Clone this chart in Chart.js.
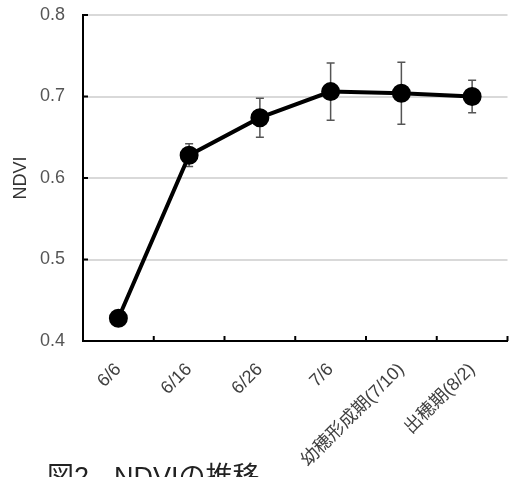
<!DOCTYPE html>
<html>
<head>
<meta charset="utf-8">
<script src="https://cdn.jsdelivr.net/npm/chart.js@4/dist/chart.umd.min.js"></script>
<style>
  html, body { margin: 0; padding: 0; background: #fff; }
  #wrap { position: relative; width: 519px; height: 477px; }
</style>
</head>
<body>
<div id="wrap"><canvas id="c" width="519" height="477"></canvas></div>
<script>
// Survey dates / growth stages
const categories = ['6/6', '6/16', '6/26', '7/6', '幼穂形成期(7/10)', '出穂期(8/2)'];
// Mean NDVI per date
const ndvi = [0.428, 0.628, 0.674, 0.706, 0.704, 0.700];
// Standard deviation per date
const sd = [0.004, 0.014, 0.024, 0.035, 0.038, 0.020];
// Y axis ticks
const yTicks = [0.4, 0.5, 0.6, 0.7, 0.8];
// Figure caption: number and title
const captionNumber = '図2';
const captionText = 'NDVIの推移';

const FONT = '"Liberation Sans", "Noto Sans CJK JP", sans-serif';

// Error bars (mean ± SD) drawn through the y scale
const errorBars = {
  id: 'errorBars',
  beforeDatasetsDraw(chart) {
    const ctx = chart.ctx;
    const xs = chart.scales.x, ys = chart.scales.y;
    ctx.save();
    ctx.strokeStyle = '#555';
    ctx.lineWidth = 1.5;
    ndvi.forEach((v, i) => {
      const x = xs.getPixelForValue(i);
      const yTop = ys.getPixelForValue(v + sd[i]);
      const yBot = ys.getPixelForValue(v - sd[i]);
      ctx.beginPath();
      ctx.moveTo(x, yTop); ctx.lineTo(x, yBot);
      ctx.moveTo(x - 4, yTop); ctx.lineTo(x + 4, yTop);
      ctx.moveTo(x - 4, yBot); ctx.lineTo(x + 4, yBot);
      ctx.stroke();
    });
    ctx.restore();
  }
};

// Inward tick marks on both axes, plus figure caption
const decorations = {
  id: 'decorations',
  afterDraw(chart) {
    const ctx = chart.ctx;
    const xs = chart.scales.x, ys = chart.scales.y;
    const area = chart.chartArea;
    ctx.save();
    ctx.strokeStyle = '#000';
    ctx.lineWidth = 2;
    const n = categories.length;
    for (let i = 1; i <= n; i++) {
      const x = xs.left + i * (xs.right - xs.left) / n;
      ctx.beginPath();
      ctx.moveTo(x, area.bottom);
      ctx.lineTo(x, area.bottom - 5);
      ctx.stroke();
    }
    yTicks.forEach(v => {
      const y = ys.getPixelForValue(v);
      ctx.beginPath();
      ctx.moveTo(area.left, y);
      ctx.lineTo(area.left + 5, y);
      ctx.stroke();
    });
    ctx.fillStyle = '#222';
    ctx.font = '27px ' + FONT;
    ctx.textBaseline = 'alphabetic';
    ctx.textAlign = 'left';
    ctx.fillText(captionNumber, 47, 486);
    ctx.fillText(captionText, 114, 486);
    ctx.restore();
  }
};

new Chart(document.getElementById('c'), {
  type: 'line',
  data: {
    labels: categories,
    datasets: [{
      data: ndvi,
      borderColor: '#000',
      backgroundColor: '#000',
      borderWidth: 4,
      pointRadius: 7.5,
      pointHoverRadius: 7.5,
      pointBackgroundColor: '#000',
      pointBorderColor: '#000',
      tension: 0
    }]
  },
  options: {
    responsive: false,
    animation: false,
    events: [],
    layout: { padding: { top: 15, right: 2, left: 10, bottom: 0 } },
    plugins: { legend: { display: false }, tooltip: { enabled: false } },
    scales: {
      x: {
        type: 'category',
        offset: true,
        grid: { display: false, drawTicks: false },
        border: { display: true, color: '#000', width: 2 },
        ticks: {
          color: '#404040',
          font: { family: FONT, size: 18 },
          minRotation: 45,
          maxRotation: 45,
          padding: 18,
          autoSkip: false
        },
        afterFit(scale) {
          scale.height = 136;
          scale.paddingLeft = 0;
          scale.paddingRight = 0;
        }
      },
      y: {
        min: 0.4,
        max: 0.8,
        afterBuildTicks(scale) { scale.ticks = yTicks.map(v => ({ value: v })); },
        grid: {
          color: '#d9d9d9',
          lineWidth: 2,
          drawTicks: false
        },
        border: { display: true, color: '#000', width: 2 },
        ticks: {
          color: '#555',
          font: { family: FONT, size: 18 },
          padding: 18,
          callback: v => v.toFixed(1)
        },
        title: {
          display: true,
          text: 'NDVI',
          color: '#333',
          font: { family: FONT, size: 18 },
          padding: { top: 0, bottom: 0 }
        },
        afterFit(scale) {
          scale.width = 73;
          scale.paddingTop = 0;
          scale.paddingBottom = 0;
        }
      }
    }
  },
  plugins: [errorBars, decorations]
});
</script>
</body>
</html>
